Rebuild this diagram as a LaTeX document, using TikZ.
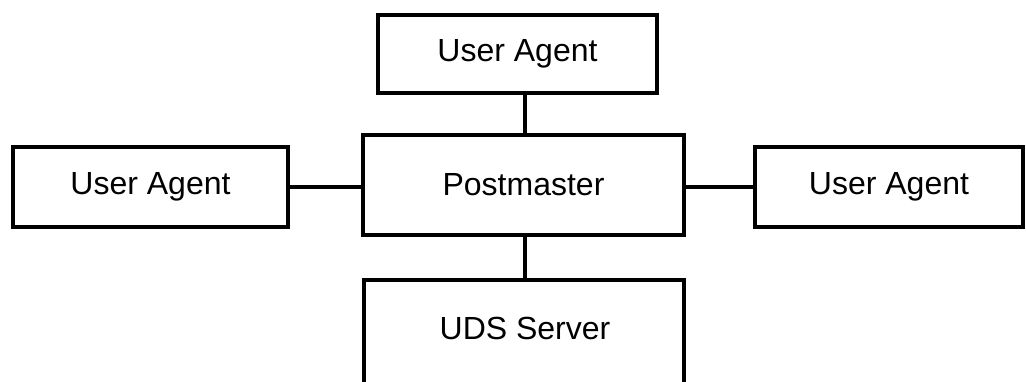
\documentclass[tikz,border=0pt]{standalone}
\usepackage{fontspec}
\setmainfont{Liberation Sans}
\begin{document}
\begin{tikzpicture}[x=0.75pt,y=-0.75pt,
  box/.style={draw=black, line width=2.9pt, rectangle, inner sep=0pt, font=\fontsize{24}{28}\selectfont},
  link/.style={draw=black, line width=2.9pt}]
\useasboundingbox (0,0) rectangle (1026,382);
\node[box, minimum width=279*0.75pt, minimum height=78*0.75pt] (top) at (517.5,54) {User Agent};
\node[box, minimum width=321*0.75pt, minimum height=100*0.75pt] (pm) at (523.5,185) {Postmaster};
\node[box, minimum width=275*0.75pt, minimum height=80*0.75pt] (left) at (150.5,187) {User Agent};
\node[box, minimum width=268*0.75pt, minimum height=80*0.75pt] (right) at (889,187) {User Agent};
\node[box, minimum width=320*0.75pt, minimum height=112*0.75pt] (uds) at (524,336) {};
\node[font=\fontsize{24}{28}\selectfont] (udst) at (525,328) {UDS Server};
\coordinate (tc) at (525,93);
\draw[link] (top.south -| tc) -- (pm.north -| tc);
\draw[link] (left.east) -- (left.east -| pm.west);
\draw[link] (right.west) -- (right.west -| pm.east);
\draw[link] (pm.south -| tc) -- (uds.north -| tc);
\end{tikzpicture}
\end{document}
